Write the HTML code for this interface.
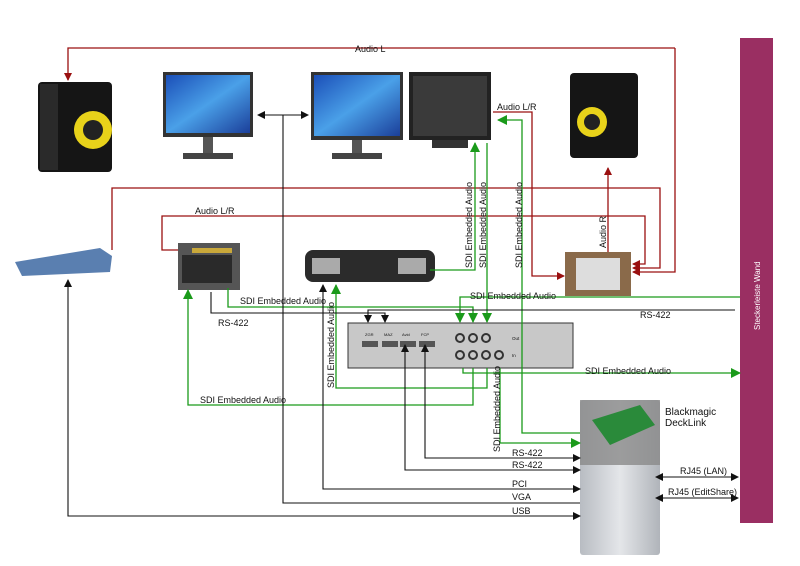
<!DOCTYPE html>
<html><head><meta charset="utf-8"><style>
body{margin:0;background:#fff}
svg{display:block;font-family:"Liberation Sans",sans-serif}
text{font-size:9px;fill:#111}
</style></head><body>
<svg width="800" height="566" viewBox="0 0 800 566" xmlns="http://www.w3.org/2000/svg">
<defs>
<marker id="ab" markerWidth="8" markerHeight="8" refX="7" refY="4" orient="auto" markerUnits="userSpaceOnUse"><path d="M0,0L8,4L0,8z" fill="#111"/></marker>
<marker id="ag" markerWidth="10" markerHeight="10" refX="9" refY="5" orient="auto" markerUnits="userSpaceOnUse"><path d="M0,0L10,5L0,10z" fill="#1a9a1a"/></marker>
<marker id="ar" markerWidth="8" markerHeight="8" refX="7" refY="4" orient="auto" markerUnits="userSpaceOnUse"><path d="M0,0L8,4L0,8z" fill="#9a1010"/></marker>
<marker id="abs" markerWidth="8" markerHeight="8" refX="1" refY="4" orient="auto" markerUnits="userSpaceOnUse"><path d="M8,0L0,4L8,8z" fill="#111"/></marker>
<linearGradient id="scr" x1="0" y1="0" x2="1" y2="1"><stop offset="0" stop-color="#1b4fb8"/><stop offset=".5" stop-color="#4aa0e8"/><stop offset="1" stop-color="#1b3f9a"/></linearGradient>
<linearGradient id="mac" x1="0" y1="0" x2="1" y2="0"><stop offset="0" stop-color="#b8bcc2"/><stop offset=".5" stop-color="#e4e6e9"/><stop offset="1" stop-color="#b0b4ba"/></linearGradient>
</defs>
<rect x="740" y="38" width="33" height="485" fill="#9a2f62"/>
<text transform="translate(760,330) rotate(-90)" style="font-size:8px;fill:#fff">Steckerleiste Wand</text>

<rect x="38" y="82" width="74" height="90" rx="4" fill="#151515"/>
<rect x="40" y="84" width="18" height="86" fill="#2a2a2a"/>
<circle cx="93" cy="130" r="19" fill="#e8d21a"/><circle cx="93" cy="130" r="10" fill="#222"/>
<rect x="570" y="73" width="68" height="85" rx="4" fill="#151515"/>
<circle cx="592" cy="122" r="15" fill="#e8d21a"/><circle cx="592" cy="122" r="8" fill="#222"/>

<rect x="163" y="72" width="90" height="65" fill="#333"/><rect x="166" y="75" width="84" height="58" fill="url(#scr)"/>
<rect x="203" y="137" width="10" height="17" fill="#555"/><rect x="183" y="153" width="50" height="6" fill="#444"/>
<rect x="311" y="72" width="92" height="68" fill="#333"/><rect x="314" y="75" width="86" height="61" fill="url(#scr)"/>
<rect x="352" y="140" width="10" height="14" fill="#555"/><rect x="332" y="153" width="50" height="6" fill="#444"/>
<rect x="409" y="72" width="82" height="68" fill="#222"/><rect x="413" y="76" width="74" height="60" fill="#3a3a3a"/>
<rect x="432" y="140" width="36" height="8" fill="#333"/>

<path d="M15,262 L100,248 L112,256 L110,272 L22,276 Z" fill="#5a7fb0"/>
<rect x="178" y="243" width="62" height="47" fill="#555"/><rect x="182" y="255" width="50" height="28" fill="#2a2a2a"/>
<rect x="192" y="248" width="40" height="5" fill="#c9a83a"/>
<rect x="305" y="250" width="130" height="32" rx="8" fill="#2b2b2b"/>
<rect x="312" y="258" width="28" height="16" fill="#aaa"/><rect x="398" y="258" width="28" height="16" fill="#aaa"/>
<rect x="565" y="252" width="66" height="44" fill="#8a6a4a"/><rect x="576" y="258" width="44" height="32" fill="#ddd"/>

<rect x="348" y="323" width="225" height="45" fill="#c8c8c8" stroke="#333"/>
<g fill="#555"><rect x="362" y="341" width="16" height="6"/><rect x="382" y="341" width="16" height="6"/><rect x="400" y="341" width="16" height="6"/><rect x="419" y="341" width="16" height="6"/></g>
<g fill="none" stroke="#333" stroke-width="2"><circle cx="460" cy="338" r="4"/><circle cx="473" cy="338" r="4"/><circle cx="486" cy="338" r="4"/><circle cx="460" cy="355" r="4"/><circle cx="473" cy="355" r="4"/><circle cx="486" cy="355" r="4"/><circle cx="499" cy="355" r="4"/></g>
<g transform="translate(0,0)"><text transform="translate(365,336) scale(.45)">ZGR</text><text transform="translate(384,336) scale(.45)">MAZ</text><text transform="translate(402,336) scale(.45)">Avid</text><text transform="translate(421,336) scale(.45)">FCP</text><text transform="translate(512,340) scale(.5)">Out</text><text transform="translate(512,357) scale(.5)">In</text></g>

<rect x="580" y="400" width="80" height="155" rx="3" fill="url(#mac)"/>
<rect x="580" y="400" width="80" height="65" fill="#8a8a8a" opacity=".8"/>
<path d="M592,420 L640,405 L655,425 L610,445 Z" fill="#2a8a3a"/>
<text x="665" y="415" style="font-size:10px">Blackmagic</text><text x="665" y="426" style="font-size:10px">DeckLink</text>

<g fill="none" stroke="#9a1010" stroke-width="1.3">
<polyline points="675,48 675,272 633,272" marker-end="url(#ar)"/><polyline points="675,48 68,48 68,80" marker-end="url(#ar)"/>
<polyline points="112,250 112,188 660,188 660,268 633,268" marker-end="url(#ar)"/>
<polyline points="178,250 162,250 162,216 645,216 645,264 633,264" marker-end="url(#ar)"/>
<polyline points="493,112 532,112 532,276 564,276" marker-end="url(#ar)"/>
<polyline points="608,252 608,168" marker-end="url(#ar)"/>
</g>
<text x="355" y="52">Audio L</text><text x="195" y="214">Audio L/R</text><text x="497" y="110">Audio L/R</text>
<text transform="translate(606,248) rotate(-90)">Audio R</text>

<g fill="none" stroke="#1a9a1a" stroke-width="1.3">
<polyline points="430,270 475,270 475,143" marker-end="url(#ag)"/>
<polyline points="487,143 487,322" marker-end="url(#ag)"/>
<polyline points="228,288 228,307 473,307 473,322" marker-end="url(#ag)"/>
<polyline points="740,297 460,297 460,322" marker-end="url(#ag)"/>
<polyline points="580,433 522,433 522,120 498,120" marker-end="url(#ag)"/>
<polyline points="463,368 463,373 740,373" marker-end="url(#ag)"/>
<polyline points="487,368 487,388 336,388 336,285" marker-end="url(#ag)"/>
<polyline points="473,368 473,405 188,405 188,290" marker-end="url(#ag)"/>
<polyline points="500,368 500,443 580,443" marker-end="url(#ag)"/>
</g>
<text x="240" y="304">SDI Embedded Audio</text><text x="470" y="299">SDI Embedded Audio</text>
<text x="585" y="374">SDI Embedded Audio</text><text x="200" y="403">SDI Embedded Audio</text>
<text transform="translate(472,268) rotate(-90)">SDI Embedded Audio</text>
<text transform="translate(486,268) rotate(-90)">SDI Embedded Audio</text>
<text transform="translate(522,268) rotate(-90)">SDI Embedded Audio</text>
<text transform="translate(334,388) rotate(-90)">SDI Embedded Audio</text>
<text transform="translate(500,452) rotate(-90)">SDI Embedded Audio</text>

<g fill="none" stroke="#111" stroke-width="1.1">
<line x1="258" y1="115" x2="308" y2="115" marker-start="url(#abs)" marker-end="url(#ab)"/>
<polyline points="283,115 283,503 580,503"/>
<polyline points="211,292 211,313 385,313 385,322" marker-end="url(#ab)"/>
<polyline points="735,310 368,310 368,322" marker-end="url(#ab)"/>
<polyline points="323,285 323,489 580,489" marker-start="url(#abs)" marker-end="url(#ab)"/>
<polyline points="405,345 405,470 580,470" marker-start="url(#abs)" marker-end="url(#ab)"/>
<polyline points="425,345 425,458 580,458" marker-start="url(#abs)" marker-end="url(#ab)"/>
<polyline points="68,280 68,516 580,516" marker-start="url(#abs)" marker-end="url(#ab)"/>
<line x1="656" y1="477" x2="738" y2="477" marker-start="url(#abs)" marker-end="url(#ab)"/>
<line x1="656" y1="498" x2="738" y2="498" marker-start="url(#abs)" marker-end="url(#ab)"/>
</g>
<text x="218" y="326">RS-422</text><text x="640" y="318">RS-422</text>
<text x="512" y="456">RS-422</text><text x="512" y="468">RS-422</text>
<text x="512" y="487">PCI</text><text x="512" y="500">VGA</text><text x="512" y="514">USB</text>
<text x="680" y="474">RJ45 (LAN)</text><text x="668" y="495">RJ45 (EditShare)</text>
</svg>
</body></html>
